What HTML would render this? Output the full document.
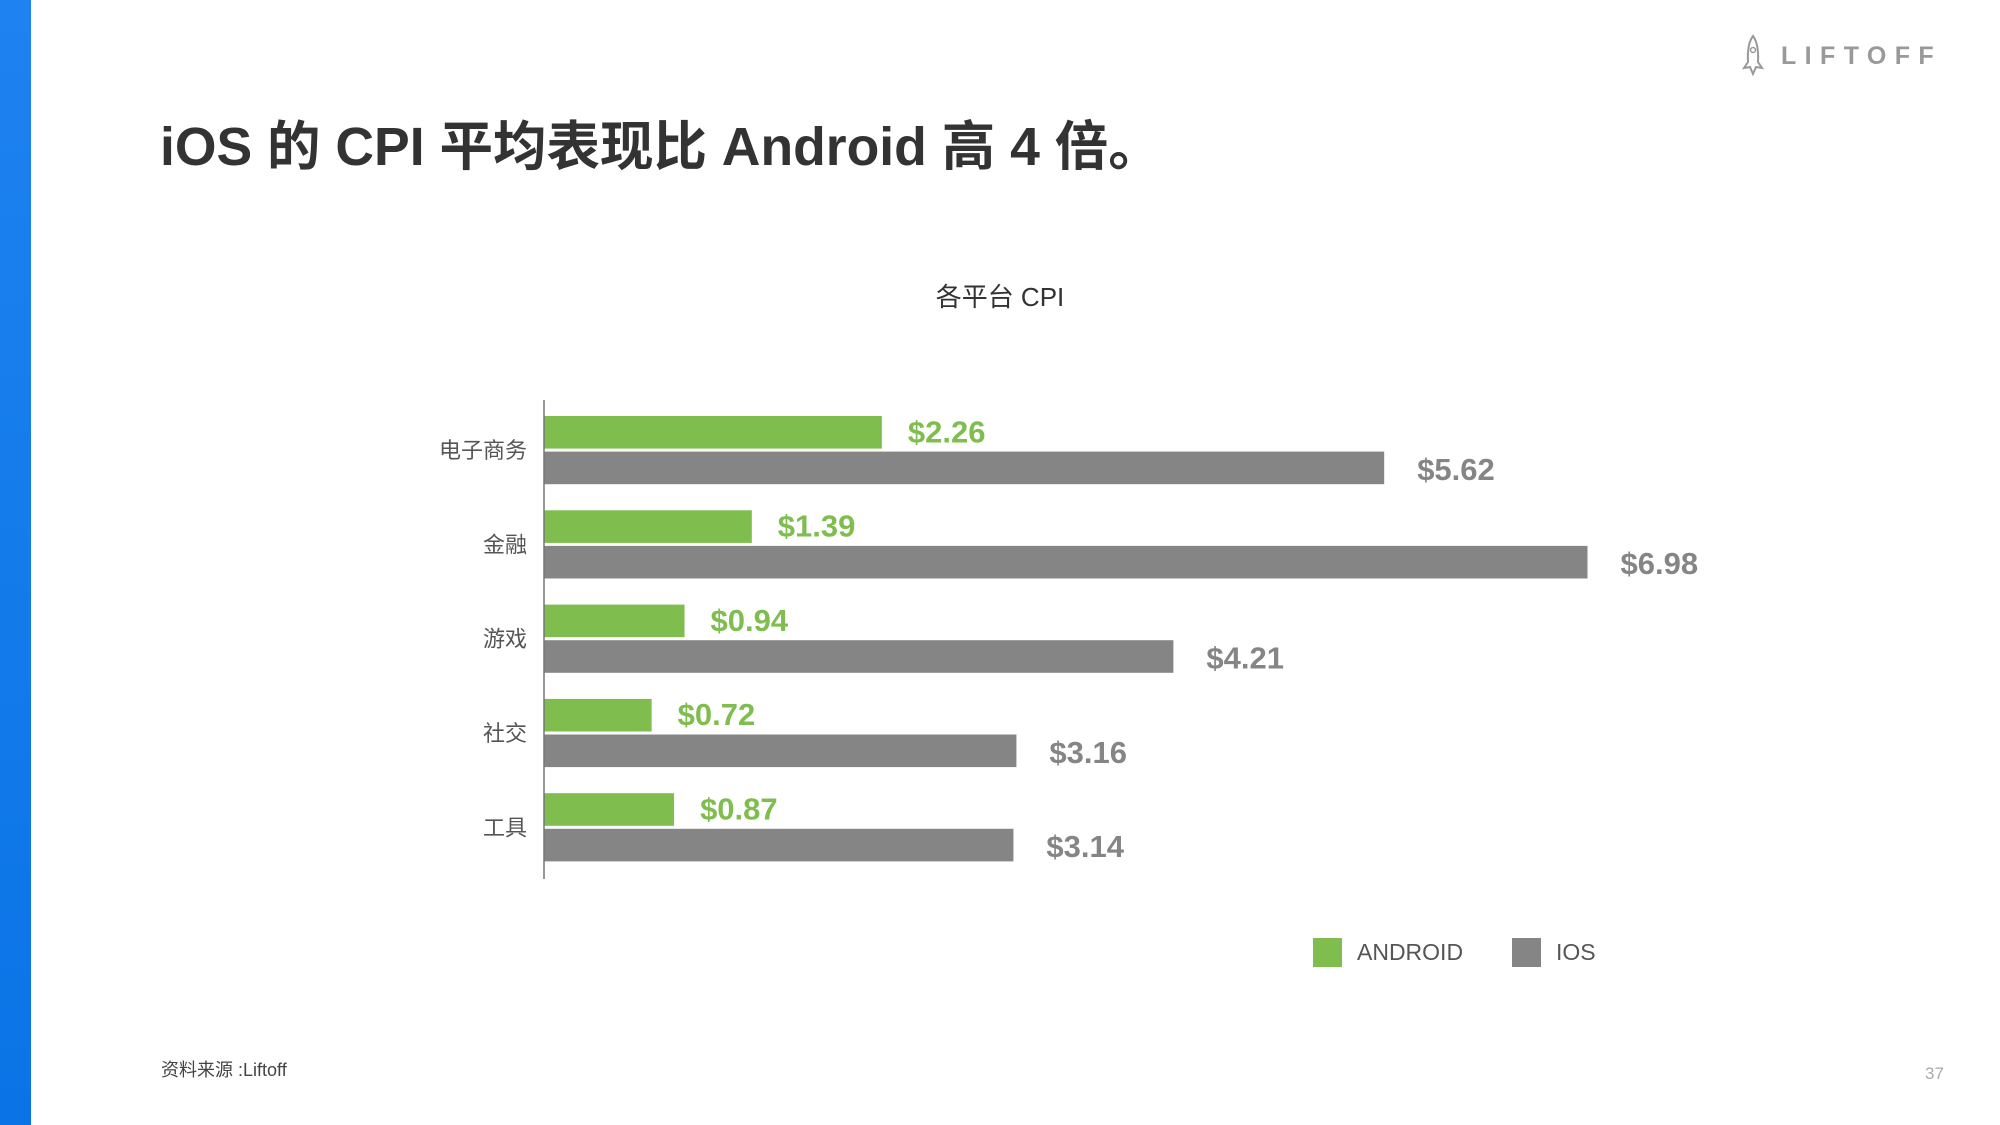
<!DOCTYPE html>
<html><head><meta charset="utf-8">
<style>
body{margin:0;width:2000px;height:1125px;background:#fff;position:relative;overflow:hidden;font-family:"Liberation Sans","Noto Sans CJK SC",sans-serif;}
.abs{position:absolute;white-space:nowrap;}
</style></head>
<body>
<div class="abs" style="left:0;top:0;width:31px;height:1125px;background:linear-gradient(#1e82f0,#0a74e6);"></div>
<div class="abs" style="left:1741px;top:34px;width:210px;height:46px;">
<svg width="30" height="46" viewBox="0 0 30 46" style="position:absolute;left:0;top:0"><path d="M12 2 Q6 10 7 28 L3 34 L9 33 L12 40 L15 33 L21 34 L17 28 Q18 10 12 2Z" fill="none" stroke="#999" stroke-width="2"/><circle cx="12" cy="16" r="2.5" fill="none" stroke="#999" stroke-width="1.5"/></svg>
<span class="abs" style="left:40px;top:8px;font-size:25px;font-weight:bold;color:#999;letter-spacing:8.4px;">LIFTOFF</span>
</div>
<div class="abs" style="left:160px;top:104px;font-size:53.5px;font-weight:bold;color:#333;">iOS 的 CPI 平均表现比 Android 高 4 倍。</div>
<div class="abs" style="left:1000px;top:277px;transform:translateX(-50%);font-size:26px;color:#333;">各平台 CPI</div>
<svg class="abs" id="chart" style="left:0;top:0" width="2000" height="1125"></svg>
<div class="abs" style="left:1313px;top:938px;">
<div class="abs" style="left:0;top:0;width:29px;height:29px;background:#7fbd4f;"></div>
<span class="abs" style="left:44px;top:1px;font-size:23px;color:#555;">ANDROID</span></div>
<div class="abs" style="left:1512px;top:938px;">
<div class="abs" style="left:0;top:0;width:29px;height:29px;background:#858585;"></div>
<span class="abs" style="left:44px;top:1px;font-size:23px;color:#555;">IOS</span></div>
<div class="abs" style="left:161px;top:1056px;font-size:18px;color:#444;">资料来源 :Liftoff</div>
<div class="abs" style="left:1925px;top:1064px;font-size:17px;color:#aaa;">37</div>
<script>
const categories=["电子商务","金融","游戏","社交","工具"];
const androidValues=[2.26,1.39,0.94,0.72,0.87];
const iosValues=[5.62,6.98,4.21,3.16,3.14];
const NS="http://www.w3.org/2000/svg";
const svg=document.getElementById('chart');
const x0=544, pxPerUnit=149.5, top0=416, pitch=94.3, barH=32.6, gap=3;
const xs=v=>x0+v*pxPerUnit;
function mk(t,a){const e=document.createElementNS(NS,t);for(const k in a)e.setAttribute(k,a[k]);svg.appendChild(e);return e;}
categories.forEach((c,i)=>{
  const yA=top0+i*pitch, yI=yA+barH+gap;
  const ra=mk('rect',{x:x0,y:yA,width:xs(androidValues[i])-x0,height:barH,fill:'#7fbd4f'});
  
  
  const ri=mk('rect',{x:x0,y:yI,width:xs(iosValues[i])-x0,height:barH,fill:'#858585'});
  
  
  const la=mk('text',{x:xs(androidValues[i])+26,y:yA+barH/2+10,fill:'#7fbd4f','font-size':31,'font-weight':'bold','font-family':'Liberation Sans, sans-serif'});
  la.textContent='$'+androidValues[i].toFixed(2);
  
  
  const li=mk('text',{x:xs(iosValues[i])+33,y:yI+barH/2+12,fill:'#858585','font-size':31,'font-weight':'bold','font-family':'Liberation Sans, sans-serif'});
  li.textContent='$'+iosValues[i].toFixed(2);
  
  
  const lc=mk('text',{x:527,y:yA+barH+gap/2+8,'text-anchor':'end',fill:'#555','font-size':22,'font-family':'Liberation Sans, Noto Sans CJK SC, sans-serif'});
  lc.textContent=c;
  
  
});
const ax=mk('line',{x1:x0,y1:400,x2:x0,y2:879,stroke:'#777','stroke-width':1.5});


</script>
</body></html>
